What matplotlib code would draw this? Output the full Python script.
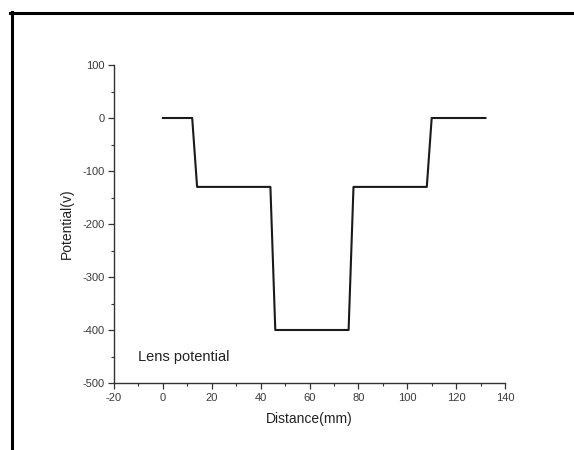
import matplotlib
matplotlib.use("Agg")
import matplotlib.pyplot as plt
from matplotlib.ticker import MultipleLocator
from matplotlib.lines import Line2D

plt.rcParams['font.family'] = ['Liberation Sans', 'DejaVu Sans']
plt.rcParams['axes.unicode_minus'] = False

# Lens potential profile along the axis
distance_mm = [0, 12, 14, 44, 46, 76, 78, 108, 110, 132]
potential_v = [0, 0, -130, -130, -400, -400, -130, -130, 0, 0]

x_ticks = [-20, 0, 20, 40, 60, 80, 100, 120, 140]
y_ticks = [100, 0, -100, -200, -300, -400, -500]

fig = plt.figure(figsize=(5.74, 4.5), dpi=100)
ax = fig.add_axes([114 / 574, 1 - 383 / 450, (505 - 114) / 574, (383 - 65) / 450])

ax.plot(distance_mm, potential_v, color='#1a1a1a', lw=1.5)

ax.set_xlim(-20, 140)
ax.set_ylim(-500, 100)
ax.set_xticks(x_ticks)
ax.set_yticks(y_ticks)
ax.xaxis.set_minor_locator(MultipleLocator(10))
ax.yaxis.set_minor_locator(MultipleLocator(50))

for s in ('top', 'right'):
    ax.spines[s].set_visible(False)
for s in ('left', 'bottom'):
    ax.spines[s].set_color('#333333')
    ax.spines[s].set_linewidth(1.0)

ax.tick_params(which='major', direction='out', length=4, width=0.9,
               colors='#333333', labelsize=8, labelcolor='#3a3a3a', pad=3)
ax.tick_params(which='minor', direction='out', length=2.5, width=0.8,
               colors='#333333')

ax.set_xlabel('Distance(mm)', fontsize=10, color='#222222', labelpad=7)
ax.set_ylabel('Potential(v)', fontsize=10, color='#222222', labelpad=6)

ax.text(-10, -450, 'Lens potential', fontsize=10.5, color='#222222',
        va='center', ha='left')

# Frame lines along the top and left edges of the figure
fig.add_artist(Line2D([9.5 / 574, 1.0], [1 - 13 / 450, 1 - 13 / 450],
                      transform=fig.transFigure, color='black', lw=2.2))
fig.add_artist(Line2D([11.5 / 574, 11.5 / 574], [0.0, 1 - 12 / 450],
                      transform=fig.transFigure, color='black', lw=2.2))

fig.savefig('out.png', dpi=100, facecolor='white')
